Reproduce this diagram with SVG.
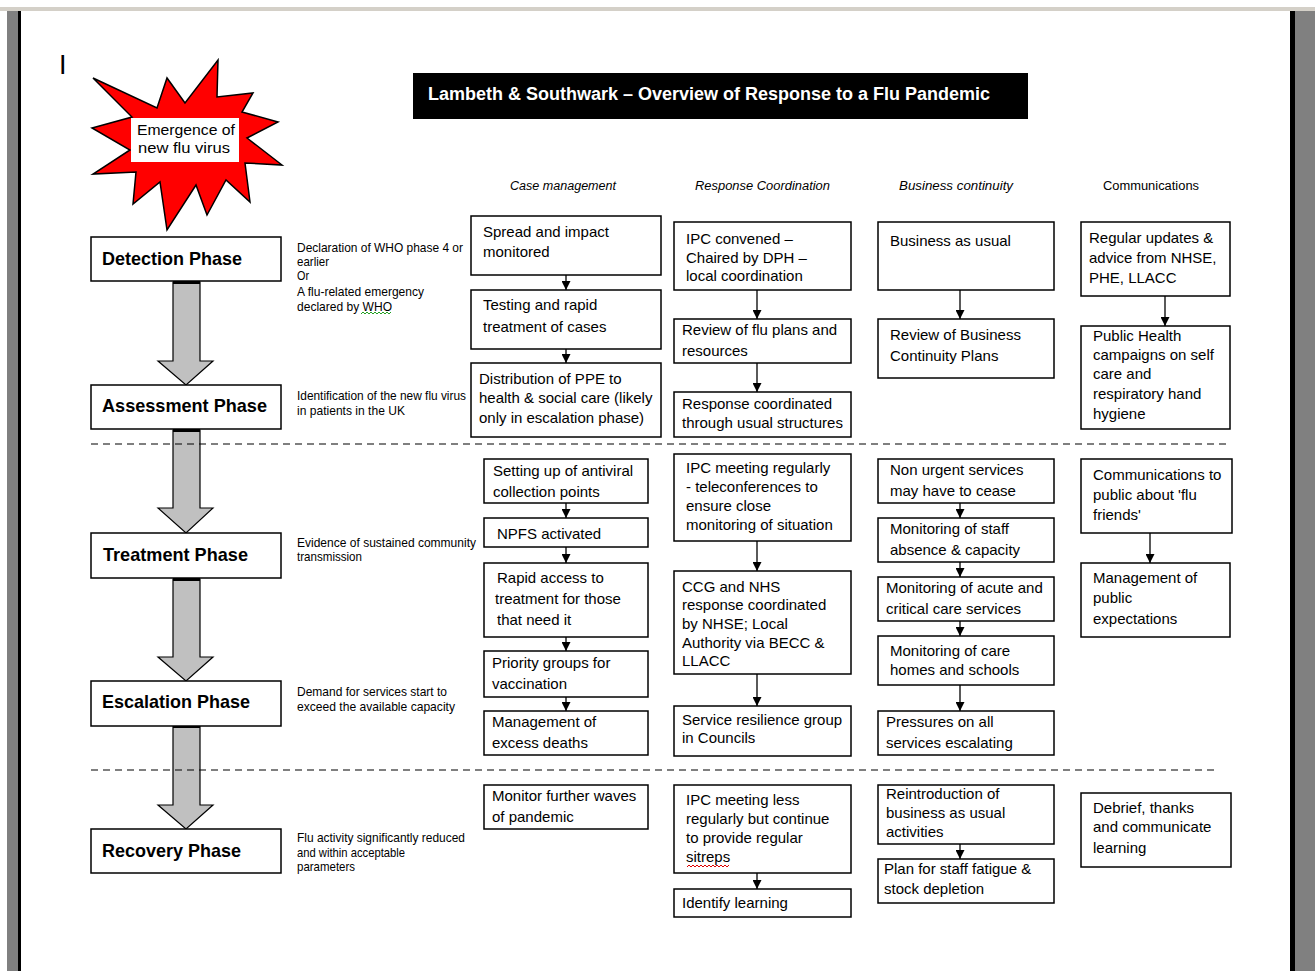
<svg xmlns="http://www.w3.org/2000/svg" width="1315" height="971" viewBox="0 0 1315 971">
  <style>
    text { font-family: "Liberation Sans", Arial, sans-serif; fill: #000; }
    .bx { fill: #fff; stroke: #000; stroke-width: 1.5; }
    .t { font-size: 15px; }
    .ph { font-size: 19px; font-weight: bold; }
    .ds { font-size: 13.5px; }
    .hd { font-size: 12px; font-style: italic; }
    .big { fill: #c0c0c0; stroke: #000; stroke-width: 1.2; stroke-linejoin: miter; }
    .dash { stroke: #000; stroke-width: 1.2; stroke-dasharray: 7 5; fill: none; }
    .cn line { stroke: #000; stroke-width: 1.3; marker-end: url(#ah); }
  </style>
  <defs>
    <marker id="ah" markerUnits="userSpaceOnUse" markerWidth="9" markerHeight="9" refX="9" refY="4.5" orient="auto">
      <path d="M0,0 L9,4.5 L0,9 z" fill="#000"/>
    </marker>
  </defs>

  <!-- page frame -->
  <rect x="0" y="0" width="1315" height="971" fill="#fff"/>
  <rect x="0" y="7" width="1315" height="4" fill="#d4d0c8"/>
  <rect x="7" y="11" width="11" height="960" fill="#808080"/>
  <rect x="18" y="11" width="3" height="960" fill="#000"/>
  <rect x="1290" y="11" width="5" height="960" fill="#000"/>
  <rect x="1295" y="11" width="20" height="960" fill="#808080"/>
  <text x="59" y="74" font-size="27px">I</text>

  <!-- starburst -->
  <g id="emergence">
    <polygon points="93,78 157,108 167,78 185,103 218,60 217,97 253,93 242,112 278,122 247,138 282,165 245,163 250,202 226,180 207,215 196,185 167,230 160,182 133,204 136,172 93,174 130,150 92,128 132,117" fill="#ff0000" stroke="#000" stroke-width="1.5" stroke-linejoin="miter"/>
    <rect x="131" y="118" width="108" height="44" fill="#fff"/>
    <text x="137" y="135" font-size="15px" textLength="98" lengthAdjust="spacingAndGlyphs">Emergence of</text>
    <text x="138" y="153" font-size="15px" textLength="92" lengthAdjust="spacingAndGlyphs">new flu virus</text>
  </g>

  <!-- title -->
  <g id="title">
    <rect x="413" y="73" width="615" height="46" fill="#000"/>
    <text x="428" y="100" font-size="18px" font-weight="bold" style="fill:#fff" textLength="562" lengthAdjust="spacingAndGlyphs">Lambeth &amp; Southwark – Overview of Response to a Flu Pandemic</text>
  </g>

  <!-- column headings -->
  <g id="headings">
    <text class="hd" x="510" y="190" textLength="106" lengthAdjust="spacingAndGlyphs">Case management</text>
    <text class="hd" x="695" y="190" textLength="135" lengthAdjust="spacingAndGlyphs">Response Coordination</text>
    <text class="hd" x="899" y="190" textLength="114" lengthAdjust="spacingAndGlyphs">Business continuity</text>
    <text x="1103" y="190" font-size="12px" textLength="96" lengthAdjust="spacingAndGlyphs">Communications</text>
  </g>

  <!-- phase flow arrows -->
  <g id="phase-arrows">
    <polygon class="big" points="173,282 200,282 200,361 213,361 186,385 158,361 173,361"/>
    <rect x="173" y="281" width="27" height="3"/>
    <polygon class="big" points="173,430 200,430 200,508 213,508 186,533 158,508 173,508"/>
    <rect x="173" y="429" width="27" height="3"/>
    <polygon class="big" points="173,579 200,579 200,657 213,657 186,681 158,657 173,657"/>
    <rect x="173" y="578" width="27" height="3"/>
    <polygon class="big" points="173,726 200,726 200,805 213,805 186,829 158,805 173,805"/>
    <rect x="173" y="725" width="27" height="3"/>
  </g>

  <!-- phase boxes -->
  <g id="detection-phase">
    <rect class="bx" x="91" y="237" width="190" height="44"/>
    <text class="ph" x="102" y="265" textLength="140" lengthAdjust="spacingAndGlyphs">Detection Phase</text>
  </g>
  <g id="assessment-phase">
    <rect class="bx" x="91" y="385" width="190" height="44"/>
    <text class="ph" x="102" y="412" textLength="165" lengthAdjust="spacingAndGlyphs">Assessment Phase</text>
  </g>
  <g id="treatment-phase">
    <rect class="bx" x="91" y="533" width="190" height="45"/>
    <text class="ph" x="103" y="561" textLength="145" lengthAdjust="spacingAndGlyphs">Treatment Phase</text>
  </g>
  <g id="escalation-phase">
    <rect class="bx" x="91" y="681" width="190" height="45"/>
    <text class="ph" x="102" y="708" textLength="148" lengthAdjust="spacingAndGlyphs">Escalation Phase</text>
  </g>
  <g id="recovery-phase">
    <rect class="bx" x="91" y="829" width="190" height="44"/>
    <text class="ph" x="102" y="857" textLength="139" lengthAdjust="spacingAndGlyphs">Recovery Phase</text>
  </g>

  <!-- phase triggers -->
  <g id="triggers">
    <text class="ds" x="297" y="252" textLength="166" lengthAdjust="spacingAndGlyphs">Declaration of WHO phase 4 or</text>
    <text class="ds" x="297" y="266" textLength="32" lengthAdjust="spacingAndGlyphs">earlier</text>
    <text class="ds" x="297" y="280" textLength="12" lengthAdjust="spacingAndGlyphs">Or</text>
    <text class="ds" x="297" y="296" textLength="127" lengthAdjust="spacingAndGlyphs">A flu-related emergency</text>
    <text class="ds" x="297" y="311" textLength="95" lengthAdjust="spacingAndGlyphs">declared by WHO</text>
    <path d="M361,314 l2,-2 l2,2 l2,-2 l2,2 l2,-2 l2,2 l2,-2 l2,2 l2,-2 l2,2 l2,-2 l2,2 l2,-2 l2,2 l2,-2" fill="none" stroke="#22a022" stroke-width="1"/>
    <text class="ds" x="297" y="400" textLength="169" lengthAdjust="spacingAndGlyphs">Identification of the new flu virus</text>
    <text class="ds" x="297" y="415" textLength="108" lengthAdjust="spacingAndGlyphs">in patients in the UK</text>
    <text class="ds" x="297" y="547" textLength="179" lengthAdjust="spacingAndGlyphs">Evidence of sustained community</text>
    <text class="ds" x="297" y="561" textLength="65" lengthAdjust="spacingAndGlyphs">transmission</text>
    <text class="ds" x="297" y="696" textLength="150" lengthAdjust="spacingAndGlyphs">Demand for services start to</text>
    <text class="ds" x="297" y="711" textLength="158" lengthAdjust="spacingAndGlyphs">exceed the available capacity</text>
    <text class="ds" x="297" y="842" textLength="168" lengthAdjust="spacingAndGlyphs">Flu activity significantly reduced</text>
    <text class="ds" x="297" y="857" textLength="108" lengthAdjust="spacingAndGlyphs">and within acceptable</text>
    <text class="ds" x="297" y="871" textLength="58" lengthAdjust="spacingAndGlyphs">parameters</text>
  </g>

  <!-- case management -->
  <g id="cm-spread">
    <rect class="bx" x="471" y="216" width="190" height="59"/>
    <text class="t" x="483" y="237">Spread and impact</text>
    <text class="t" x="483" y="257">monitored</text>
  </g>
  <g id="cm-testing">
    <rect class="bx" x="471" y="290" width="190" height="59"/>
    <text class="t" x="483" y="310">Testing and rapid</text>
    <text class="t" x="483" y="332">treatment of cases</text>
  </g>
  <g id="cm-ppe">
    <rect class="bx" x="471" y="363" width="190" height="74"/>
    <text class="t" x="479" y="384">Distribution of PPE to</text>
    <text class="t" x="479" y="403">health &amp; social care (likely</text>
    <text class="t" x="479" y="423">only in escalation phase)</text>
  </g>
  <g id="cm-antiviral">
    <rect class="bx" x="484" y="459" width="164" height="44"/>
    <text class="t" x="493" y="476">Setting up of antiviral</text>
    <text class="t" x="493" y="497">collection points</text>
  </g>
  <g id="cm-npfs">
    <rect class="bx" x="484" y="518" width="164" height="29"/>
    <text class="t" x="497" y="539">NPFS activated</text>
  </g>
  <g id="cm-rapid-access">
    <rect class="bx" x="484" y="563" width="164" height="74"/>
    <text class="t" x="497" y="583">Rapid access to</text>
    <text class="t" x="495" y="604">treatment for those</text>
    <text class="t" x="497" y="625">that need it</text>
  </g>
  <g id="cm-priority">
    <rect class="bx" x="484" y="651" width="164" height="46"/>
    <text class="t" x="492" y="668">Priority groups for</text>
    <text class="t" x="492" y="689">vaccination</text>
  </g>
  <g id="cm-deaths">
    <rect class="bx" x="484" y="711" width="164" height="44"/>
    <text class="t" x="492" y="727">Management of</text>
    <text class="t" x="492" y="748">excess deaths</text>
  </g>
  <g id="cm-waves">
    <rect class="bx" x="484" y="785" width="164" height="44"/>
    <text class="t" x="492" y="801">Monitor further waves</text>
    <text class="t" x="492" y="822">of pandemic</text>
  </g>

  <!-- response coordination -->
  <g id="rc-ipc-convened">
    <rect class="bx" x="674" y="222" width="177" height="68"/>
    <text class="t" x="686" y="244">IPC convened –</text>
    <text class="t" x="686" y="263">Chaired by DPH –</text>
    <text class="t" x="686" y="281">local coordination</text>
  </g>
  <g id="rc-review">
    <rect class="bx" x="674" y="319" width="177" height="44"/>
    <text class="t" x="682" y="335">Review of flu plans and</text>
    <text class="t" x="682" y="356">resources</text>
  </g>
  <g id="rc-usual">
    <rect class="bx" x="674" y="392" width="177" height="45"/>
    <text class="t" x="682" y="409">Response coordinated</text>
    <text class="t" x="682" y="428">through usual structures</text>
  </g>
  <g id="rc-ipc-regular">
    <rect class="bx" x="674" y="454" width="177" height="87"/>
    <text class="t" x="686" y="473">IPC meeting regularly</text>
    <text class="t" x="686" y="492">- teleconferences to</text>
    <text class="t" x="686" y="511">ensure close</text>
    <text class="t" x="686" y="530">monitoring of situation</text>
  </g>
  <g id="rc-ccg">
    <rect class="bx" x="674" y="571" width="177" height="103"/>
    <text class="t" x="682" y="592">CCG and NHS</text>
    <text class="t" x="682" y="610">response coordinated</text>
    <text class="t" x="682" y="629">by NHSE; Local</text>
    <text class="t" x="682" y="648">Authority via BECC &amp;</text>
    <text class="t" x="682" y="666">LLACC</text>
  </g>
  <g id="rc-resilience">
    <rect class="bx" x="674" y="706" width="177" height="50"/>
    <text class="t" x="682" y="725">Service resilience group</text>
    <text class="t" x="682" y="743">in Councils</text>
  </g>
  <g id="rc-ipc-less">
    <rect class="bx" x="674" y="785" width="177" height="88"/>
    <text class="t" x="686" y="805">IPC meeting less</text>
    <text class="t" x="686" y="824">regularly but continue</text>
    <text class="t" x="686" y="843">to provide regular</text>
    <text class="t" x="686" y="862">sitreps</text>
    <path d="M687,867 l2,-2 l2,2 l2,-2 l2,2 l2,-2 l2,2 l2,-2 l2,2 l2,-2 l2,2 l2,-2 l2,2 l2,-2 l2,2 l2,-2 l2,2 l2,-2 l2,2 l2,-2 l2,2 l2,-2" fill="none" stroke="#e00000" stroke-width="1"/>
  </g>
  <g id="rc-learning">
    <rect class="bx" x="674" y="889" width="177" height="28"/>
    <text class="t" x="682" y="908">Identify learning</text>
  </g>

  <!-- business continuity -->
  <g id="bc-usual">
    <rect class="bx" x="878" y="222" width="176" height="68"/>
    <text class="t" x="890" y="246">Business as usual</text>
  </g>
  <g id="bc-review">
    <rect class="bx" x="878" y="319" width="176" height="59"/>
    <text class="t" x="890" y="340">Review of Business</text>
    <text class="t" x="890" y="361">Continuity Plans</text>
  </g>
  <g id="bc-non-urgent">
    <rect class="bx" x="878" y="459" width="176" height="44"/>
    <text class="t" x="890" y="475">Non urgent services</text>
    <text class="t" x="890" y="496">may have to cease</text>
  </g>
  <g id="bc-staff">
    <rect class="bx" x="878" y="518" width="176" height="44"/>
    <text class="t" x="890" y="534">Monitoring of staff</text>
    <text class="t" x="890" y="555">absence &amp; capacity</text>
  </g>
  <g id="bc-acute">
    <rect class="bx" x="878" y="577" width="176" height="44"/>
    <text class="t" x="886" y="593">Monitoring of acute and</text>
    <text class="t" x="886" y="614">critical care services</text>
  </g>
  <g id="bc-care-homes">
    <rect class="bx" x="878" y="636" width="176" height="49"/>
    <text class="t" x="890" y="656">Monitoring of care</text>
    <text class="t" x="890" y="675">homes and schools</text>
  </g>
  <g id="bc-pressures">
    <rect class="bx" x="878" y="711" width="176" height="44"/>
    <text class="t" x="886" y="727">Pressures on all</text>
    <text class="t" x="886" y="748">services escalating</text>
  </g>
  <g id="bc-reintroduction">
    <rect class="bx" x="878" y="785" width="176" height="59"/>
    <text class="t" x="886" y="799">Reintroduction of</text>
    <text class="t" x="886" y="818">business as usual</text>
    <text class="t" x="886" y="837">activities</text>
  </g>
  <g id="bc-fatigue">
    <rect class="bx" x="878" y="859" width="176" height="44"/>
    <text class="t" x="884" y="874">Plan for staff fatigue &amp;</text>
    <text class="t" x="884" y="894">stock depletion</text>
  </g>

  <!-- communications -->
  <g id="cx-updates">
    <rect class="bx" x="1081" y="222" width="149" height="74"/>
    <text class="t" x="1089" y="243">Regular updates &amp;</text>
    <text class="t" x="1089" y="263">advice from NHSE,</text>
    <text class="t" x="1089" y="283">PHE, LLACC</text>
  </g>
  <g id="cx-campaigns">
    <rect class="bx" x="1081" y="326" width="149" height="103"/>
    <text class="t" x="1093" y="341">Public Health</text>
    <text class="t" x="1093" y="360">campaigns on self</text>
    <text class="t" x="1093" y="379">care and</text>
    <text class="t" x="1093" y="399">respiratory hand</text>
    <text class="t" x="1093" y="419">hygiene</text>
  </g>
  <g id="cx-flu-friends">
    <rect class="bx" x="1081" y="459" width="151" height="74"/>
    <text class="t" x="1093" y="480">Communications to</text>
    <text class="t" x="1093" y="500">public about 'flu</text>
    <text class="t" x="1093" y="520">friends'</text>
  </g>
  <g id="cx-expectations">
    <rect class="bx" x="1081" y="563" width="149" height="74"/>
    <text class="t" x="1093" y="583">Management of</text>
    <text class="t" x="1093" y="603">public</text>
    <text class="t" x="1093" y="624">expectations</text>
  </g>
  <g id="cx-debrief">
    <rect class="bx" x="1081" y="793" width="150" height="74"/>
    <text class="t" x="1093" y="813">Debrief, thanks</text>
    <text class="t" x="1093" y="832">and communicate</text>
    <text class="t" x="1093" y="853">learning</text>
  </g>

  <!-- phase separators -->
  <g id="separators">
    <line class="dash" x1="91" y1="444" x2="1228" y2="444"/>
    <line class="dash" x1="91" y1="770" x2="1215" y2="770"/>
  </g>

  <!-- connectors -->
  <g id="connectors" class="cn">
    <line x1="566" y1="275" x2="566" y2="290"/>
    <line x1="566" y1="349" x2="566" y2="363"/>
    <line x1="566" y1="503" x2="566" y2="518"/>
    <line x1="566" y1="547" x2="566" y2="563"/>
    <line x1="566" y1="637" x2="566" y2="651"/>
    <line x1="566" y1="697" x2="566" y2="711"/>
    <line x1="757" y1="290" x2="757" y2="319"/>
    <line x1="757" y1="363" x2="757" y2="392"/>
    <line x1="757" y1="541" x2="757" y2="571"/>
    <line x1="757" y1="674" x2="757" y2="706"/>
    <line x1="757" y1="873" x2="757" y2="889"/>
    <line x1="960" y1="290" x2="960" y2="319"/>
    <line x1="960" y1="503" x2="960" y2="518"/>
    <line x1="960" y1="562" x2="960" y2="577"/>
    <line x1="960" y1="621" x2="960" y2="636"/>
    <line x1="960" y1="685" x2="960" y2="711"/>
    <line x1="960" y1="844" x2="960" y2="859"/>
    <line x1="1165" y1="296" x2="1165" y2="326"/>
    <line x1="1150" y1="533" x2="1150" y2="563"/>
  </g>
</svg>
